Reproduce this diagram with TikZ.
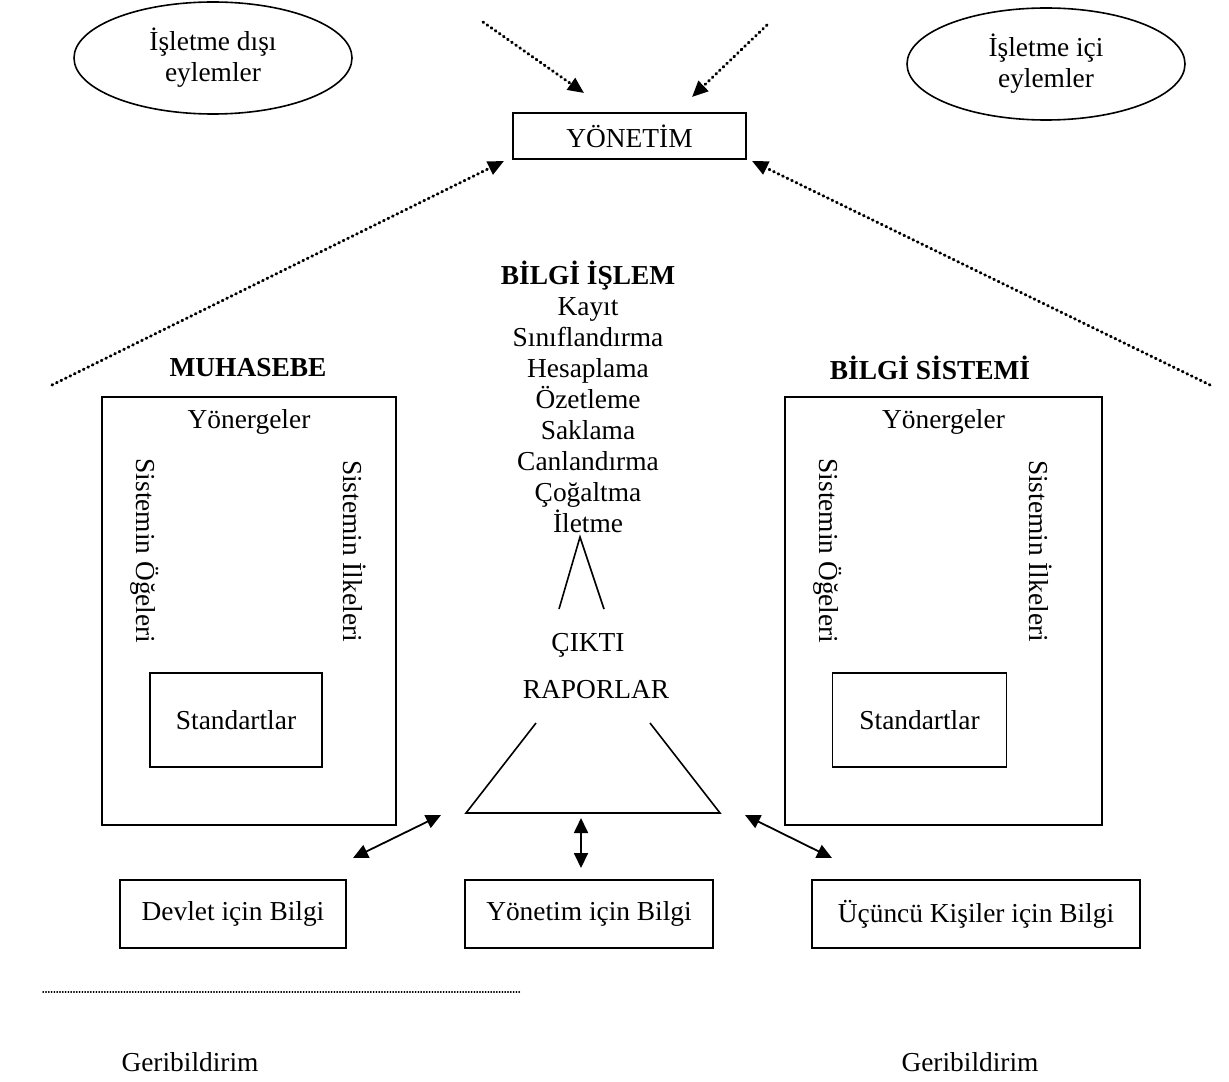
\documentclass[tikz,border=0pt]{standalone}
\usepackage{fontspec}
\setmainfont{Liberation Serif}
\usetikzlibrary{positioning,arrows.meta,shapes.geometric}

\begin{document}
\begin{tikzpicture}[x=0.5pt,y=-0.5pt,font=\fontsize{13.7}{15.5}\selectfont]
	\tikzset{
	    kutu/.style={draw, line width=0.8pt, inner sep=0pt, align=center},
	    bulut/.style={draw, line width=0.8pt, ellipse, inner sep=0pt, align=center,
	                  minimum width=139pt, minimum height=56pt},
	    noktali/.style={line width=1.5pt, dash pattern=on 0.4pt off 2.1pt, line cap=round},
	    ucok/.style={-{Triangle[length=8pt,width=7pt]}},
	    ciftok/.style={{Triangle[length=7.5pt,width=7pt]}-{Triangle[length=7.5pt,width=7pt]}, line width=0.9pt},
	    dikyazi/.style={rotate=-90, inner sep=0pt}
	}
	\useasboundingbox (0,0) rectangle (1229,1081);

	% ust kisim
	\node[bulut] (disi) at (213,58) {İşletme dışı\\eylemler};
	\node[bulut] (ici) at (1046,64) {İşletme içi\\eylemler};
	\node[kutu, minimum width=116.5pt, minimum height=23pt] (yonetim) at (629.5,136) {YÖNETİM};

	\coordinate (u1) at (483,22);
	\coordinate (u1t) at (584,93);
	\coordinate (u2) at (767,25);
	\coordinate (u2t) at (692,97);
	\coordinate (sol) at (52,385);
	\coordinate (sag) at (1210,385);
	\coordinate (solt) at (504,161);
	\coordinate (sagt) at (752,161);

	\draw[noktali, ucok] (u1) -- (u1t);
	\draw[noktali, ucok] (u2) -- (u2t);
	\draw[noktali, ucok] (sol) -- (solt);
	\draw[noktali, ucok] (sag) -- (sagt);

	% bilgi islem
	\node[align=center, inner sep=0pt] (islem) at (588,397)
	    {\textbf{BİLGİ İŞLEM}\\Kayıt\\Sınıflandırma\\Hesaplama\\Özetleme\\Saklama\\Canlandırma\\Çoğaltma\\İletme};
	\coordinate (tepe) at (580,537);
	\draw[line width=0.8pt] (559,609) -- (tepe) -- (604,609);
	\node (cikti) at (588,645) {ÇIKTI};
	\node (raporlar) at (596,690) {RAPORLAR};
	\draw[line width=0.8pt] (536,723) -- (466,813) -- (720,813) -- (650,723);

	% muhasebe
	\node (muhasebe) at (248,368) {\textbf{MUHASEBE}};
	\node[kutu, minimum width=147pt, minimum height=214pt] (solkutu) at (249,611) {};
	\node[below=3pt of solkutu.north] (solyon) {Yönergeler};
	\node[dikyazi] (solog) at (145,551) {Sistemin Öğeleri};
	\node[dikyazi] (solilke) at (355,551) {Sistemin İlkeleri};
	\node[kutu, minimum width=86pt, minimum height=47pt] (solstd) at (236,720) {Standartlar};

	% bilgi sistemi
	\node (sistem) at (930,368) {\textbf{BİLGİ SİSTEMİ}};
	\node[kutu, minimum width=158.5pt, minimum height=214pt] (sagkutu) at (943.5,611) {};
	\node[below=3pt of sagkutu.north] (sagyon) {Yönergeler};
	\node[dikyazi] (sagog) at (828,551) {Sistemin Öğeleri};
	\node[dikyazi] (sagilke) at (1041,551) {Sistemin İlkeleri};
	\node[kutu, minimum width=87pt, minimum height=47pt] (sagstd) at (919.5,720) {Standartlar};

	% alt kutular
	\node[kutu, minimum width=113pt, minimum height=34pt] (devlet) at (233,914) {Devlet için Bilgi};
	\node[kutu, minimum width=124pt, minimum height=34pt] (ybilgi) at (589,914) {Yönetim için Bilgi};
	\node[kutu, minimum width=164pt, minimum height=34pt] (ucuncu) at (976,914) {Üçüncü Kişiler için Bilgi};

	\coordinate (a1) at (353,858);
	\coordinate (a1t) at (441,815);
	\coordinate (a2) at (581,818);
	\coordinate (a2t) at (581,868);
	\coordinate (a3) at (745,815);
	\coordinate (a3t) at (832,858);
	\draw[ciftok] (a1) -- (a1t);
	\draw[ciftok] (a2) -- (a2t);
	\draw[ciftok] (a3) -- (a3t);

	% geribildirim
	\coordinate (g1) at (43,992);
	\coordinate (g2) at (520,992);
	\draw[line width=0.8pt, dash pattern=on 0.2pt off 1.2pt, line cap=round] (g1) -- (g2);
	\node (geri1) at (190,1062) {Geribildirim};
	\node (geri2) at (970,1062) {Geribildirim};
\end{tikzpicture}
\end{document}
